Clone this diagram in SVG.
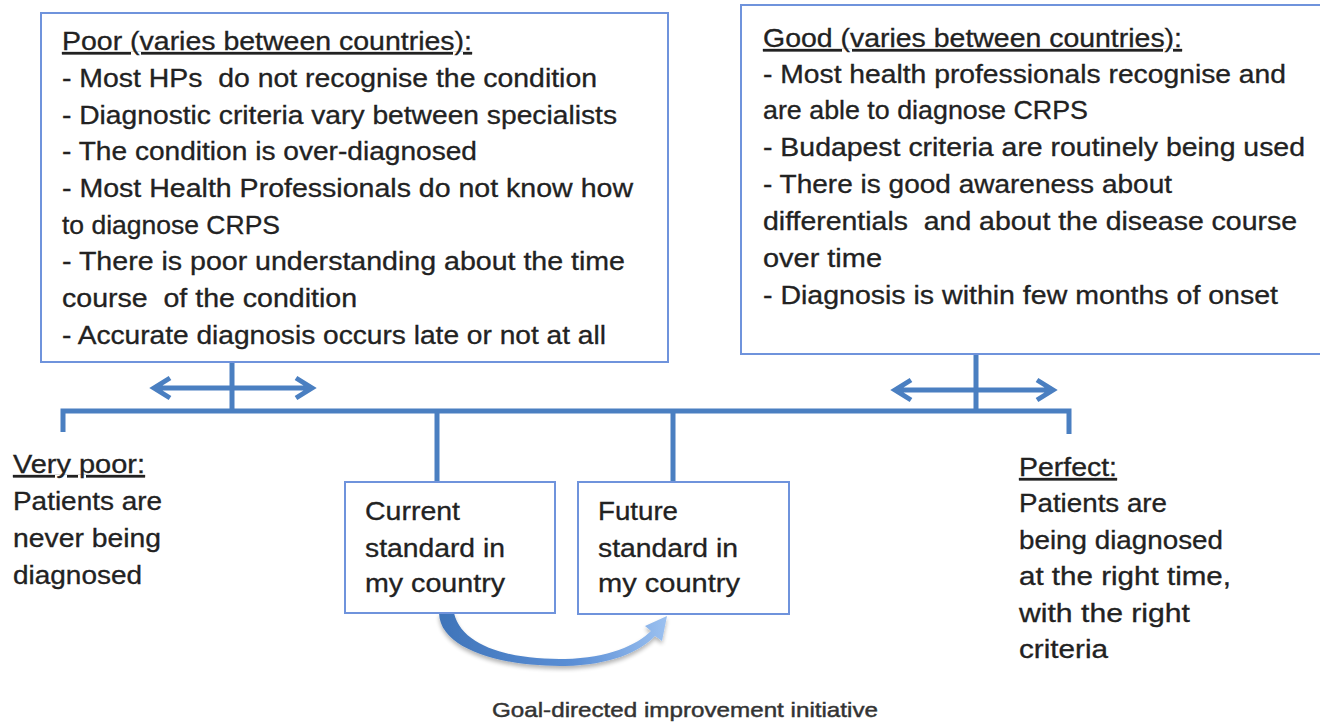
<svg xmlns="http://www.w3.org/2000/svg" width="1320" height="722" viewBox="0 0 1320 722">
<style>
.box{fill:#fff;stroke:#6f93dc;stroke-width:2}
.t{font-family:"Liberation Sans",Arial,sans-serif;font-size:25px;fill:#222;stroke:#222;stroke-width:0.3}
.u{text-decoration:underline}
.ln{fill:none;stroke:#4a7fc1;stroke-width:5;stroke-linecap:butt}
.arr{fill:none;stroke:#4a7fc1;stroke-width:5;stroke-linejoin:miter}
.lbl{font-family:"Liberation Sans",Arial,sans-serif;font-size:21px;fill:#333;stroke:#333;stroke-width:0.45}
</style>
<defs>
<linearGradient id="cg" x1="0" y1="0" x2="1" y2="0">
<stop offset="0" stop-color="#3f74b9"/>
<stop offset="0.6" stop-color="#5b8fd6"/>
<stop offset="1" stop-color="#9cc1f0"/>
</linearGradient>
<filter id="sh" x="-10%" y="-10%" width="120%" height="140%">
<feGaussianBlur in="SourceAlpha" stdDeviation="2"/>
<feOffset dx="0" dy="3"/>
<feComponentTransfer><feFuncA type="linear" slope="0.3"/></feComponentTransfer>
<feMerge><feMergeNode/><feMergeNode in="SourceGraphic"/></feMerge>
</filter>
</defs>
<rect width="1320" height="722" fill="#fff"/>

<g id="connectors">
<path class="ln" d="M232 362 V411 M976 354 V411 M63 432 V411 H1069 V434 M437 411 V482 M673 411 V482"/>
<path class="arr" d="M154 388 H312 M170 378 L154 388 L170 398 M296 378 L312 388 L296 398"/>
<path class="arr" d="M895 390 H1053 M911 380 L895 390 L911 400 M1037 380 L1053 390 L1037 400"/>
<path id="curve" fill="url(#cg)" filter="url(#sh)" d="M439 613 C440 652 510 667 565 666 C610 665 640 652 655 636 L662 641 L667 616 L645 626 L651 631 C637 645 608 658 565 659 C515 660 462 648 454 613 Z"/>
</g>

<g id="poor">
<rect class="box" x="41" y="13" width="627" height="349"/>
<text class="t u" x="62" y="50" textLength="410" lengthAdjust="spacingAndGlyphs">Poor (varies between countries):</text>
<text class="t" x="62" y="87" textLength="535" lengthAdjust="spacingAndGlyphs" xml:space="preserve">- Most HPs  do not recognise the condition</text>
<text class="t" x="62" y="124" textLength="555" lengthAdjust="spacingAndGlyphs">- Diagnostic criteria vary between specialists</text>
<text class="t" x="62" y="160" textLength="415" lengthAdjust="spacingAndGlyphs">- The condition is over-diagnosed</text>
<text class="t" x="62" y="197" textLength="571" lengthAdjust="spacingAndGlyphs">- Most Health Professionals do not know how</text>
<text class="t" x="62" y="234" textLength="218" lengthAdjust="spacingAndGlyphs">to diagnose CRPS</text>
<text class="t" x="62" y="270" textLength="563" lengthAdjust="spacingAndGlyphs">- There is poor understanding about the time</text>
<text class="t" x="62" y="307" textLength="295" lengthAdjust="spacingAndGlyphs" xml:space="preserve">course  of the condition</text>
<text class="t" x="62" y="344" textLength="544" lengthAdjust="spacingAndGlyphs">- Accurate diagnosis occurs late or not at all</text>
</g>

<g id="good">
<rect class="box" x="741" y="5" width="590" height="349"/>
<text class="t u" x="763" y="47" textLength="419" lengthAdjust="spacingAndGlyphs">Good (varies between countries):</text>
<text class="t" x="763" y="83" textLength="523" lengthAdjust="spacingAndGlyphs">- Most health professionals recognise and</text>
<text class="t" x="763" y="119" textLength="325" lengthAdjust="spacingAndGlyphs">are able to diagnose CRPS</text>
<text class="t" x="763" y="156" textLength="542" lengthAdjust="spacingAndGlyphs">- Budapest criteria are routinely being used</text>
<text class="t" x="763" y="193" textLength="409" lengthAdjust="spacingAndGlyphs">- There is good awareness about</text>
<text class="t" x="763" y="230" textLength="534" lengthAdjust="spacingAndGlyphs" xml:space="preserve">differentials  and about the disease course</text>
<text class="t" x="763" y="267" textLength="119" lengthAdjust="spacingAndGlyphs">over time</text>
<text class="t" x="763" y="304" textLength="515" lengthAdjust="spacingAndGlyphs">- Diagnosis is within few months of onset</text>
</g>

<g id="very-poor">
<text class="t u" x="13" y="473" textLength="132" lengthAdjust="spacingAndGlyphs">Very poor:</text>
<text class="t" x="13" y="510" textLength="149" lengthAdjust="spacingAndGlyphs">Patients are</text>
<text class="t" x="13" y="547" textLength="148" lengthAdjust="spacingAndGlyphs">never being</text>
<text class="t" x="13" y="584" textLength="129" lengthAdjust="spacingAndGlyphs">diagnosed</text>
</g>

<g id="current">
<rect class="box" x="345" y="482" width="210" height="131"/>
<text class="t" x="365" y="520" textLength="95" lengthAdjust="spacingAndGlyphs">Current</text>
<text class="t" x="365" y="557" textLength="140" lengthAdjust="spacingAndGlyphs">standard in</text>
<text class="t" x="365" y="592" textLength="140" lengthAdjust="spacingAndGlyphs">my country</text>
</g>

<g id="future">
<rect class="box" x="578" y="482" width="211" height="132"/>
<text class="t" x="598" y="520" textLength="80" lengthAdjust="spacingAndGlyphs">Future</text>
<text class="t" x="598" y="557" textLength="140" lengthAdjust="spacingAndGlyphs">standard in</text>
<text class="t" x="598" y="592" textLength="142" lengthAdjust="spacingAndGlyphs">my country</text>
</g>

<g id="perfect">
<text class="t u" x="1019" y="476" textLength="98" lengthAdjust="spacingAndGlyphs">Perfect:</text>
<text class="t" x="1019" y="512" textLength="148" lengthAdjust="spacingAndGlyphs">Patients are</text>
<text class="t" x="1019" y="549" textLength="204" lengthAdjust="spacingAndGlyphs">being diagnosed</text>
<text class="t" x="1019" y="585" textLength="212" lengthAdjust="spacingAndGlyphs">at the right time,</text>
<text class="t" x="1019" y="622" textLength="171" lengthAdjust="spacingAndGlyphs">with the right</text>
<text class="t" x="1019" y="658" textLength="89" lengthAdjust="spacingAndGlyphs">criteria</text>
</g>

<g id="goal-label">
<text class="lbl" x="492" y="717" textLength="386" lengthAdjust="spacingAndGlyphs">Goal-directed improvement initiative</text>
</g>
</svg>
